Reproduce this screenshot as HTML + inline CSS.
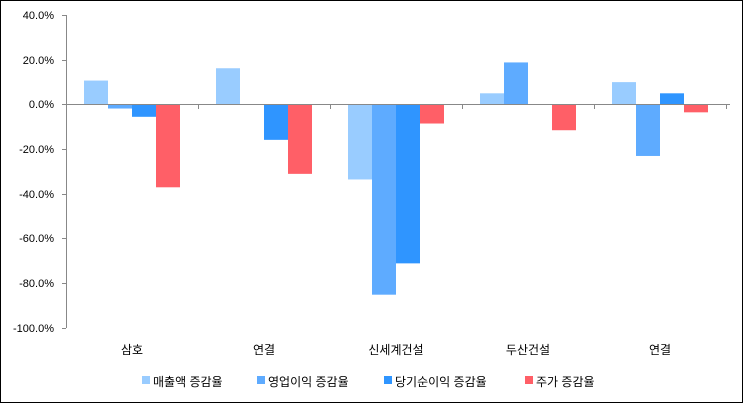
<!DOCTYPE html><html><head><meta charset="utf-8"><style>body{margin:0;background:#fff}svg{display:block}text{font-family:"Liberation Sans","Noto Sans CJK KR",sans-serif;font-size:11px;fill:#000}</style></head><body>
<svg width="743" height="403" xmlns="http://www.w3.org/2000/svg">
<rect x="0.5" y="0.5" width="742" height="402" fill="#fff" stroke="#000"/>
<g stroke="#888" stroke-width="1">
<line x1="66.5" y1="15" x2="66.5" y2="328"/>
<line x1="62" y1="15.5" x2="66" y2="15.5"/><line x1="62" y1="60.5" x2="66" y2="60.5"/><line x1="62" y1="104.5" x2="66" y2="104.5"/><line x1="62" y1="149.5" x2="66" y2="149.5"/><line x1="62" y1="194.5" x2="66" y2="194.5"/><line x1="62" y1="238.5" x2="66" y2="238.5"/><line x1="62" y1="283.5" x2="66" y2="283.5"/><line x1="62" y1="328.5" x2="66" y2="328.5"/>
</g>
<g text-anchor="end">
<text x="54" y="19">40.0%</text><text x="54" y="64">20.0%</text><text x="54" y="108">0.0%</text><text x="54" y="153">-20.0%</text><text x="54" y="198">-40.0%</text><text x="54" y="242">-60.0%</text><text x="54" y="287">-80.0%</text><text x="54" y="332">-100.0%</text>
</g>
<g>
<rect x="84" y="80.56" width="24" height="23.94" fill="#99ccff"/>
<rect x="108" y="104.5" width="24" height="4.03" fill="#5eabff"/>
<rect x="132" y="104.5" width="24" height="12.31" fill="#2f95ff"/>
<rect x="156" y="104.5" width="24" height="82.79" fill="#ff5f67"/>
<rect x="216" y="68.25" width="24" height="36.25" fill="#99ccff"/>
<rect x="264" y="104.5" width="24" height="35.35" fill="#2f95ff"/>
<rect x="288" y="104.5" width="24" height="69.36" fill="#ff5f67"/>
<rect x="348" y="104.5" width="24" height="74.96" fill="#99ccff"/>
<rect x="372" y="104.5" width="24" height="190.19" fill="#5eabff"/>
<rect x="396" y="104.5" width="24" height="158.86" fill="#2f95ff"/>
<rect x="420" y="104.5" width="24" height="19.02" fill="#ff5f67"/>
<rect x="480" y="93.31" width="24" height="11.19" fill="#99ccff"/>
<rect x="504" y="62.43" width="24" height="42.07" fill="#5eabff"/>
<rect x="552" y="104.5" width="24" height="25.73" fill="#ff5f67"/>
<rect x="612" y="82.12" width="24" height="22.38" fill="#99ccff"/>
<rect x="636" y="104.5" width="24" height="51.46" fill="#5eabff"/>
<rect x="660" y="93.31" width="24" height="11.19" fill="#2f95ff"/>
<rect x="684" y="104.5" width="24" height="7.83" fill="#ff5f67"/>
</g>
<g stroke="#888"><line x1="66" y1="104.5" x2="730" y2="104.5"/>
<line x1="198.5" y1="104" x2="198.5" y2="109"/><line x1="330.5" y1="104" x2="330.5" y2="109"/><line x1="462.5" y1="104" x2="462.5" y2="109"/><line x1="594.5" y1="104" x2="594.5" y2="109"/><line x1="726.5" y1="104" x2="726.5" y2="109"/></g>
<g text-anchor="middle" style="font-size:12px">
<text x="132" y="354" style="font-size:12px">삼호</text><text x="264" y="354" style="font-size:12px">연결</text><text x="396" y="354" style="font-size:12px">신세계건설</text><text x="528" y="354" style="font-size:12px">두산건설</text><text x="660" y="354" style="font-size:12px">연결</text>
</g>
<g style="font-size:12px">
<rect x="142" y="376" width="8" height="8" fill="#99ccff"/><text x="153" y="386" style="font-size:12px">매출액 증감율</text>
<rect x="257" y="376" width="8" height="8" fill="#5eabff"/><text x="268" y="386" style="font-size:12px">영업이익 증감율</text>
<rect x="384" y="376" width="8" height="8" fill="#2f95ff"/><text x="395" y="386" style="font-size:12px">당기순이익 증감율</text>
<rect x="525" y="376" width="8" height="8" fill="#ff5f67"/><text x="536" y="386" style="font-size:12px">주가 증감율</text>
</g>
</svg></body></html>
